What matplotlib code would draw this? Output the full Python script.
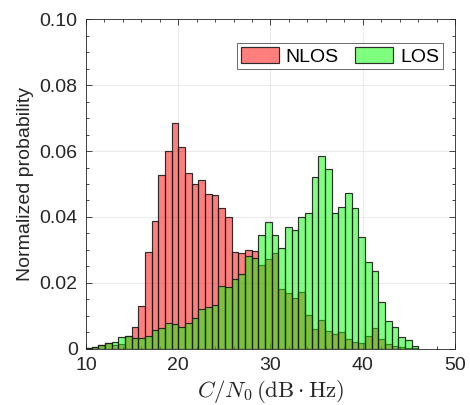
import matplotlib
matplotlib.use("Agg")
import matplotlib.pyplot as plt
from matplotlib.ticker import MultipleLocator, FixedLocator
import numpy as np

plt.rcParams['font.family'] = ['Liberation Sans', 'DejaVu Sans']
plt.rcParams['mathtext.fontset'] = 'cm'

# Histogram bins (shared by both series)
bin_start = 9.89
bin_width = 0.7226

# Normalized probability per bin
nlos = [0.0003, 0.0006, 0.0012, 0.0017, 0.0011, 0.0015, 0.0039, 0.0064, 0.0129, 0.0294,
        0.0388, 0.0528, 0.0601, 0.0684, 0.0612, 0.0532, 0.0500, 0.0512, 0.0471, 0.0468,
        0.0427, 0.0400, 0.0294, 0.0289, 0.0300, 0.0296, 0.0253, 0.0271, 0.0290, 0.0180,
        0.0170, 0.0152, 0.0172, 0.0103, 0.0058, 0.0086, 0.0054, 0.0044, 0.0049, 0.0028,
        0.0020, 0.0016, 0.0039, 0.0061, 0.0028, 0.0013, 0.0009, 0.0005, 0.0003, 0.0001]
los = [0.0003, 0.0006, 0.0012, 0.0017, 0.0020, 0.0034, 0.0038, 0.0031, 0.0031, 0.0037,
       0.0055, 0.0061, 0.0077, 0.0075, 0.0066, 0.0077, 0.0092, 0.0119, 0.0126, 0.0133,
       0.0189, 0.0186, 0.0211, 0.0225, 0.0282, 0.0276, 0.0344, 0.0384, 0.0345, 0.0306,
       0.0369, 0.0359, 0.0400, 0.0411, 0.0520, 0.0585, 0.0545, 0.0411, 0.0429, 0.0472,
       0.0428, 0.0340, 0.0263, 0.0236, 0.0141, 0.0084, 0.0065, 0.0034, 0.0026, 0.0009]

series_labels = ['NLOS', 'LOS']
x_ticks = [10, 20, 30, 40, 50]
y_ticks = [0, 0.02, 0.04, 0.06, 0.08, 0.10]
y_tick_labels = ['0', '0.02', '0.04', '0.06', '0.08', '0.10']

left_edges = bin_start + bin_width * np.arange(len(nlos))

fig = plt.figure(figsize=(4.7, 4.05), dpi=100)
ax = fig.add_axes([0.183, 0.1395, 0.785, 0.8125])

edge = (0.1, 0.1, 0.1, 0.9)
ax.bar(left_edges, nlos, width=bin_width, align='edge', color=(1, 0, 0, 0.5),
       edgecolor=edge, linewidth=0.85, label=series_labels[0], zorder=2)
ax.bar(left_edges, los, width=bin_width, align='edge', color=(0, 1, 0, 0.5),
       edgecolor=edge, linewidth=0.85, label=series_labels[1], zorder=3)

ax.set_xlim(10, 50)
ax.set_ylim(0, 0.10)
ax.xaxis.set_major_locator(FixedLocator(x_ticks))
ax.xaxis.set_minor_locator(MultipleLocator(2))
ax.yaxis.set_major_locator(FixedLocator(y_ticks))
ax.yaxis.set_minor_locator(MultipleLocator(0.005))
ax.set_yticklabels(y_tick_labels)

axcol = (0.15, 0.15, 0.15)
ax.tick_params(which='both', direction='in', top=True, right=True, colors=axcol,
               labelcolor=axcol, labelsize=14, width=0.6)
ax.tick_params(which='major', length=4, pad=6)
ax.tick_params(which='minor', length=2.5)
for s in ax.spines.values():
    s.set_color(axcol)
    s.set_linewidth(0.6)

ax.set_axisbelow(True)
ax.grid(True, which='major', color='#e6e6e6', alpha=1.0, linewidth=0.6, zorder=0)

ax.set_ylabel('Normalized probability', fontsize=14, color=axcol, labelpad=4)
ax.set_xlabel(r'$C/N_0\,(\mathrm{dB}\cdot\mathrm{Hz})$', fontsize=16.5, color=axcol, labelpad=3)

leg = ax.legend(loc='upper right', ncol=2, fontsize=14, frameon=True, fancybox=False,
                bbox_to_anchor=(0.967, 0.928), borderaxespad=0.0,
                handlelength=1.95, handleheight=0.85, handletextpad=0.35,
                columnspacing=0.85, borderpad=0.2)
leg.get_frame().set_edgecolor(axcol)
leg.get_frame().set_linewidth(0.6)

fig.savefig('out.png', dpi=100)
